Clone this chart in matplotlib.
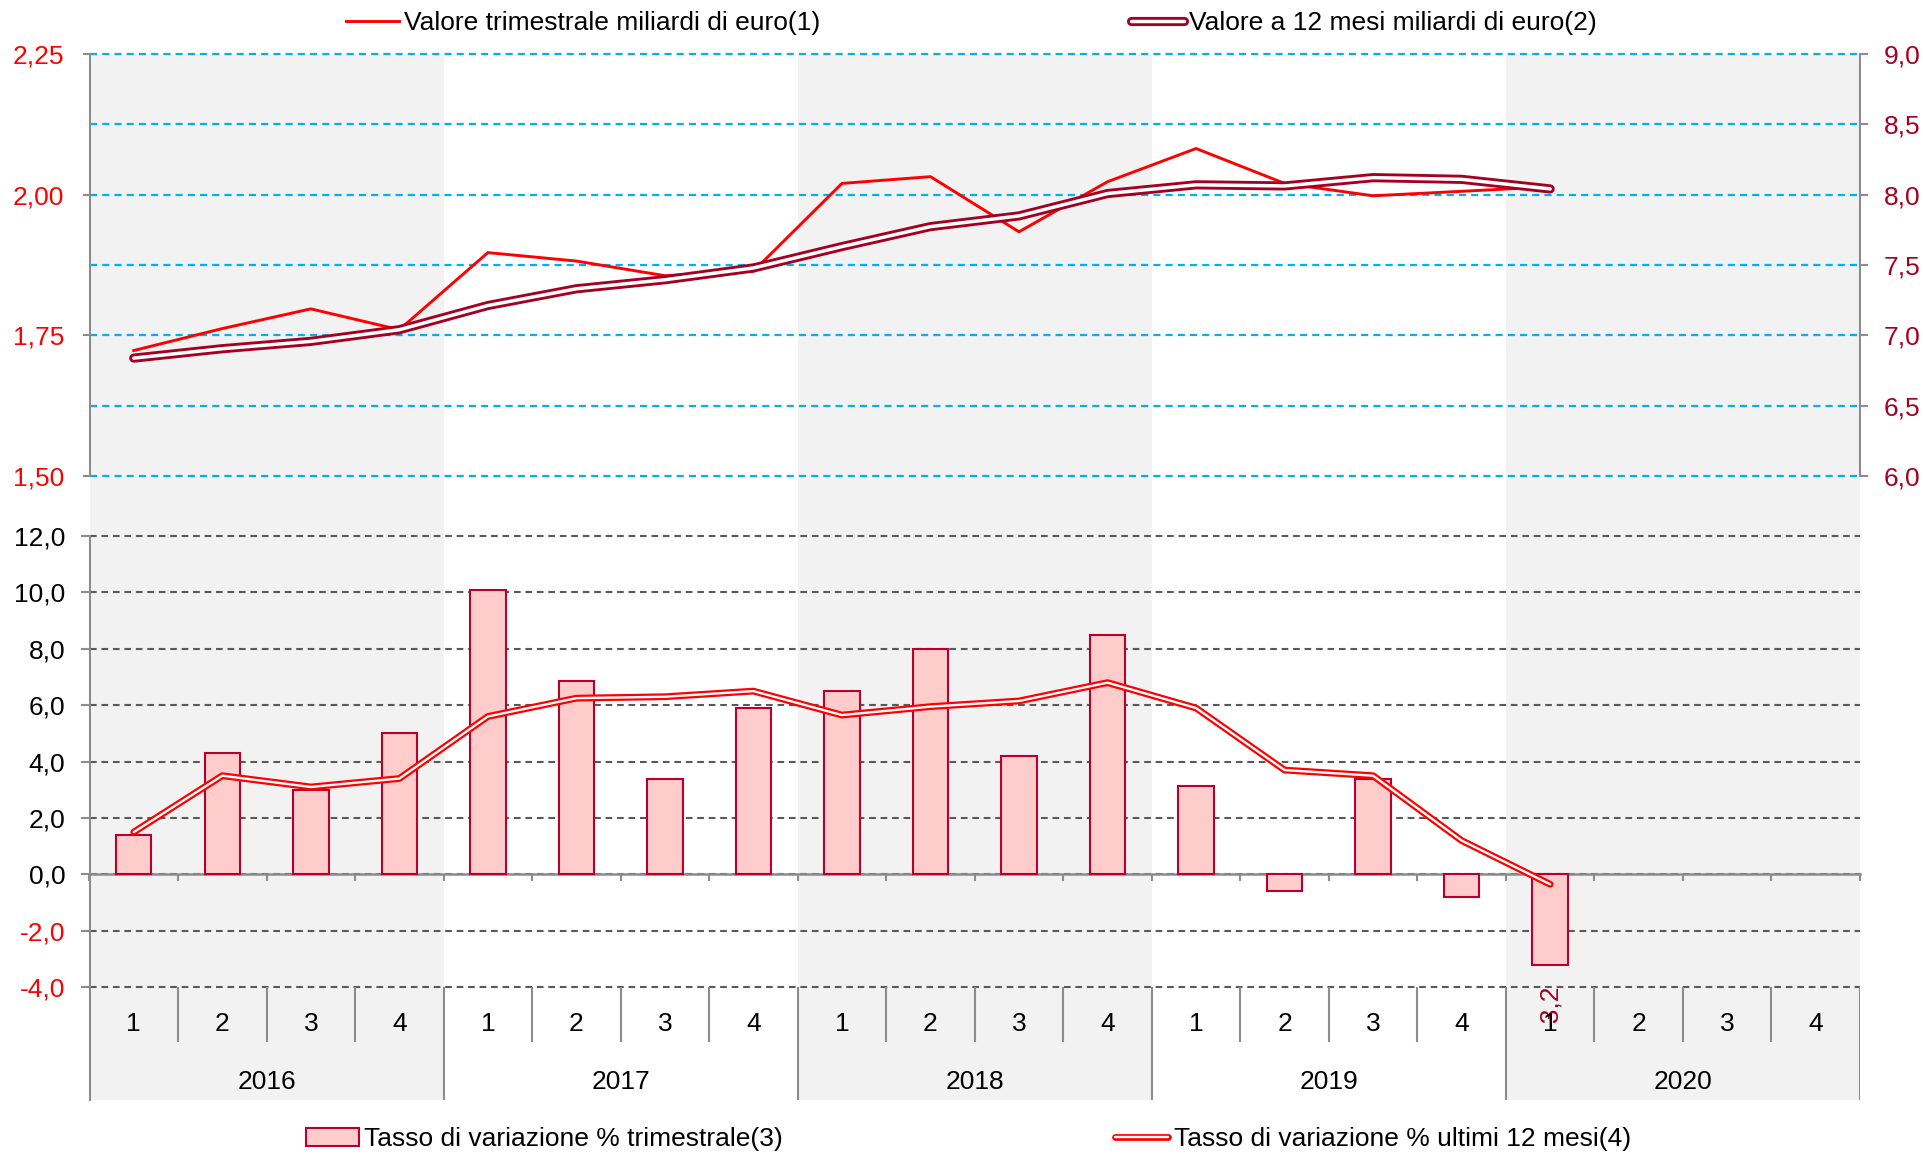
import matplotlib.pyplot as plt
import matplotlib.patheffects as pe
import numpy as np
from matplotlib.ticker import FuncFormatter, MultipleLocator

plt.rcParams['font.family'] = ['Liberation Sans', 'DejaVu Sans']
plt.rcParams['font.size'] = 19

# period labels
years = ['2016', '2017', '2018', '2019', '2020']
quarters = ['1', '2', '3', '4']

# top panel: miliardi di euro
valore_trim = [1.723, 1.762, 1.797, 1.760, 1.897, 1.882, 1.856, 1.864, 2.020,
               2.032, 1.934, 2.023, 2.082, 2.020, 1.998, 2.006, 2.014]
valore_12m = [6.838, 6.905, 6.957, 7.040, 7.212, 7.331, 7.395, 7.479, 7.631,
              7.773, 7.849, 8.008, 8.070, 8.062, 8.121, 8.109, 8.041]

# bottom panel: tassi di variazione %
tasso_trim = [1.4, 4.3, 3.0, 5.0, 10.1, 6.85, 3.4, 5.9, 6.5, 8.0, 4.2, 8.5,
              3.15, -0.6, 3.4, -0.8, -3.2]
tasso_12m = [1.5, 3.5, 3.1, 3.4, 5.6, 6.25, 6.3, 6.5, 5.65, 5.95, 6.15, 6.8,
             5.9, 3.7, 3.5, 1.2, -0.35]

LABEL_1 = 'Valore trimestrale miliardi di euro(1)'
LABEL_2 = 'Valore a 12 mesi miliardi di euro(2)'
LABEL_3 = 'Tasso di variazione % trimestrale(3)'
LABEL_4 = 'Tasso di variazione % ultimi 12 mesi(4)'

RED = '#FF0000'
DARK_RED = '#A50021'
BAR_FILL = '#FFCCCC'
BAR_EDGE = '#B8002C'
GRAY = '#8C8C8C'
SHADE = '#F2F2F2'
CYAN = '#00B0F0'
GRID_GRAY = '#595959'


def comma(fmt):
    return FuncFormatter(lambda v, p: fmt.format(v).replace('.', ','))


n_q = len(years) * len(quarters)
x_data = np.arange(len(valore_trim))
xlim = (-0.5, n_q - 0.5)

fig = plt.figure(figsize=(19.23, 11.55), dpi=100)
W, H = 1923.0, 1155.0
left, width = 89.5 / W, 1770.5 / W

# alternating year shading behind both panels
bg = fig.add_axes([left, 1 - 1100 / H, width, 1046 / H])
bg.set_xlim(xlim)
bg.axis('off')
for j in range(0, len(years), 2):
    bg.axvspan(j * 4 - 0.5, j * 4 + 3.5, color=SHADE, lw=0)

# ---- top panel
ax_t = fig.add_axes([left, 1 - 476 / H, width, 422 / H])
ax_t.set_facecolor('none')
ax_t.set_xlim(xlim)
ax_t.set_ylim(1.5, 2.25)
ax_t.yaxis.set_major_locator(MultipleLocator(0.25))
ax_t.yaxis.set_minor_locator(MultipleLocator(0.125))
ax_t.yaxis.set_major_formatter(comma('{:.2f}'))
ax_t.grid(axis='y', which='both', color=CYAN, lw=1.6, ls=(0, (3.2, 2.3)))
ax_t.set_axisbelow(True)
ax_t.set_xticks([])
for s in ['top', 'bottom', 'right']:
    ax_t.spines[s].set_visible(False)
ax_t.spines['left'].set_color(GRAY)
ax_t.spines['left'].set_linewidth(1.5)
ax_t.tick_params(axis='y', which='major', colors=GRAY, labelcolor=RED,
                 length=5, width=1.5, pad=13)
ax_t.tick_params(axis='y', which='minor', length=0)

l1, = ax_t.plot(x_data, valore_trim, color=RED, lw=2.1, label=LABEL_1,
                solid_joinstyle='miter', zorder=3)

ax_t2 = ax_t.twinx()
ax_t2.set_xlim(xlim)
ax_t2.set_ylim(6.0, 9.0)
ax_t2.yaxis.set_major_locator(MultipleLocator(0.5))
ax_t2.yaxis.set_major_formatter(comma('{:.1f}'))
for s in ['top', 'bottom', 'left']:
    ax_t2.spines[s].set_visible(False)
ax_t2.spines['right'].set_color(GRAY)
ax_t2.spines['right'].set_linewidth(1.5)
ax_t2.tick_params(axis='y', colors=GRAY, labelcolor=DARK_RED,
                  length=6, width=1.5, pad=11)
l2, = ax_t2.plot(x_data, valore_12m, color='white', lw=2.5, label=LABEL_2,
                 solid_capstyle='round',
                 path_effects=[pe.Stroke(linewidth=6.6, foreground=DARK_RED),
                               pe.Normal()])

# ---- bottom panel
ax_b = fig.add_axes([left, 1 - 1100 / H, width, 564 / H])
ax_b.set_facecolor('none')
ax_b.set_xlim(xlim)
ax_b.set_ylim(-8.0, 12.0)
yt = np.arange(-4, 13, 2)
ax_b.set_yticks(yt)
ax_b.yaxis.set_major_formatter(comma('{:.1f}'))
ax_b.grid(axis='y', color=GRID_GRAY, lw=1.5, ls=(0, (3.2, 2.3)))
ax_b.set_axisbelow(True)
for s in ['top', 'right']:
    ax_b.spines[s].set_visible(False)
ax_b.spines['left'].set_color(GRAY)
ax_b.spines['left'].set_linewidth(1.5)
ax_b.spines['bottom'].set_position(('data', 0))
ax_b.spines['bottom'].set_color(GRAY)
ax_b.spines['bottom'].set_linewidth(1.8)
ax_b.spines['bottom'].set_zorder(2.6)
ax_b.set_xticks(np.arange(-0.5, n_q, 1.0))
ax_b.set_xticklabels([])
ax_b.tick_params(axis='x', colors=GRAY, length=5, width=1.5, direction='out')
ax_b.tick_params(axis='y', colors=GRAY, labelcolor='black', length=6.5,
                 width=1.5, pad=11)
for lab, v in zip(ax_b.get_yticklabels(), yt):
    if v < 0:
        lab.set_color(RED)

# keep the edge gridlines whole
for ax in (ax_t, ax_b):
    for gl in ax.yaxis.get_gridlines() + ax.yaxis.get_minorticklines():
        gl.set_clip_on(False)

bars = ax_b.bar(x_data, tasso_trim, width=0.4, color=BAR_FILL,
                edgecolor=BAR_EDGE, lw=1.5, label=LABEL_3, zorder=3)
l4, = ax_b.plot(x_data, tasso_12m, color='white', lw=1.7, label=LABEL_4,
                solid_capstyle='round', zorder=4,
                path_effects=[pe.Stroke(linewidth=4.9, foreground=RED),
                              pe.Normal()])

last = len(tasso_trim) - 1
ax_b.annotate('{:.1f}'.format(tasso_trim[last]).replace('.', ','),
              (x_data[last], tasso_trim[last]), xytext=(0, -14),
              textcoords='offset points', rotation=90, ha='center', va='top',
              color=DARK_RED)

# category axis below the plot area
bounds = np.arange(-0.5, n_q, 1.0)
year_bounds = bounds[::len(quarters)]
q_bounds = [b for b in bounds if b not in year_bounds]
ax_b.vlines(q_bounds, -5.95, -4.0, color=GRAY, lw=1.5)
ax_b.vlines(year_bounds, -8.0, -4.0, color=GRAY, lw=1.5)
for i in range(n_q):
    ax_b.text(i, -5.3, quarters[i % len(quarters)], ha='center', va='center')
for j, yr in enumerate(years):
    ax_b.text(j * len(quarters) + 1.5, -7.37, yr, ha='center', va='center')

# legends
fig.legend(handles=[l1, l2], loc='center', bbox_to_anchor=(0.5052, 1 - 23 / H),
           ncol=2, frameon=False, handlelength=2.0, handletextpad=0.2,
           columnspacing=11.8, borderaxespad=0)
fig.legend(handles=[bars, l4], loc='center',
           bbox_to_anchor=(0.5036, 1 - 1139 / H), ncol=2, frameon=False,
           handlelength=2.0, handletextpad=0.2, columnspacing=12.6,
           borderaxespad=0)

plt.savefig('out.png', dpi=100)
plt.close()
